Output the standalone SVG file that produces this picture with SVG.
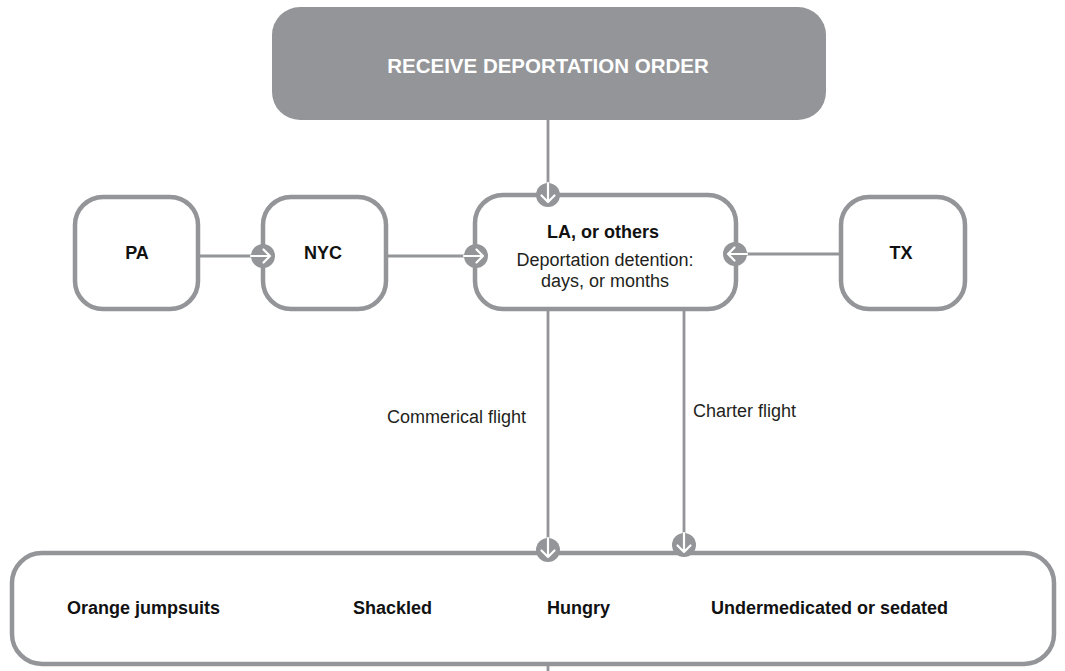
<svg xmlns="http://www.w3.org/2000/svg" width="1065" height="671" viewBox="0 0 1065 671">
  <style>
    .box { fill: #ffffff; stroke: #939598; stroke-width: 4.5; }
    .title { fill: #939598; }
    .conn { stroke: #939598; stroke-width: 2.8; fill: none; }
    .b { font-family: "Liberation Sans", Arial, Helvetica, sans-serif; font-weight: bold; font-size: 18px; fill: #111111; }
    .r { font-family: "Liberation Sans", Arial, Helvetica, sans-serif; font-size: 18px; fill: #231f20; }
    .t { font-family: "Liberation Sans", Arial, Helvetica, sans-serif; font-weight: bold; font-size: 20.5px; fill: #ffffff; }
  </style>
  <defs>
    <g id="arr">
      <circle cx="0" cy="0" r="12" fill="#939598"/>
      <path d="M-12,0 H7 M0.5,-6.5 L7,0 L0.5,6.5" fill="none" stroke="#ffffff" stroke-width="2.2" stroke-linecap="round" stroke-linejoin="round"/>
    </g>
  </defs>
  <rect width="1065" height="671" fill="#ffffff"/>

  <g id="connectors">
    <line class="conn" x1="548" y1="120" x2="548" y2="195"/>
    <line class="conn" x1="198" y1="256" x2="263" y2="256"/>
    <line class="conn" x1="385" y1="256" x2="476" y2="256"/>
    <line class="conn" x1="841" y1="254" x2="735" y2="254"/>
    <line class="conn" x1="548" y1="309" x2="548" y2="550"/>
    <line class="conn" x1="684" y1="309" x2="684" y2="545"/>
    <line class="conn" x1="548" y1="666" x2="548" y2="671" stroke="#111111" stroke-width="2"/>
  </g>

  <g id="node-order">
    <rect class="title" x="272" y="7" width="554" height="113" rx="28"/>
    <text class="t" x="548" y="72.5" text-anchor="middle">RECEIVE DEPORTATION ORDER</text>
  </g>
  <g id="node-pa">
    <rect class="box" x="75" y="197" width="123" height="112" rx="28"/>
    <text class="b" x="137" y="259" text-anchor="middle">PA</text>
  </g>
  <g id="node-nyc">
    <rect class="box" x="263" y="197" width="123" height="112" rx="28"/>
    <text class="b" x="323" y="259" text-anchor="middle">NYC</text>
  </g>
  <g id="node-la">
    <rect class="box" x="475" y="195" width="261" height="114" rx="28"/>
    <text class="b" x="603" y="238" text-anchor="middle">LA, or others</text>
    <text class="r" x="605" y="266" text-anchor="middle">Deportation detention:</text>
    <text class="r" x="605" y="287" text-anchor="middle">days, or months</text>
  </g>
  <g id="node-tx">
    <rect class="box" x="841" y="197" width="124" height="112" rx="28"/>
    <text class="b" x="901" y="259" text-anchor="middle">TX</text>
  </g>
  <g id="node-outcome">
    <rect class="box" x="12" y="553" width="1042" height="111" rx="30"/>
    <text class="b" x="67" y="614">Orange jumpsuits</text>
    <text class="b" x="353" y="614">Shackled</text>
    <text class="b" x="547" y="614">Hungry</text>
    <text class="b" x="711" y="614">Undermedicated or sedated</text>
  </g>

  <g id="connector-labels">
    <text class="r" x="387" y="423">Commerical flight</text>
    <text class="r" x="693" y="417">Charter flight</text>
  </g>

  <g id="arrowheads">
    <use href="#arr" transform="translate(548,195) rotate(90)"/>
    <use href="#arr" transform="translate(263,256)"/>
    <use href="#arr" transform="translate(476,256)"/>
    <use href="#arr" transform="translate(735,254) rotate(180)"/>
    <use href="#arr" transform="translate(548,550) rotate(90)"/>
    <use href="#arr" transform="translate(684,545) rotate(90)"/>
  </g>
</svg>
